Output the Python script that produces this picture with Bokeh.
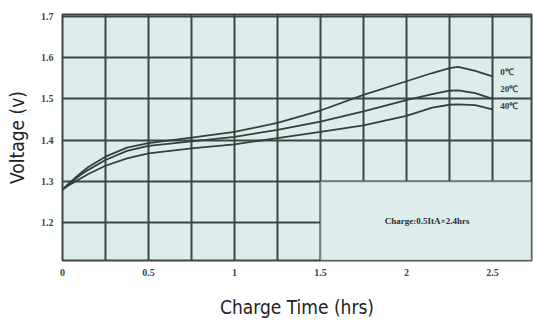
from bokeh.plotting import figure
from bokeh.models import FixedTicker, Range1d, BoxAnnotation, Label
from bokeh.embed import file_html
from bokeh.resources import INLINE

# ---- data ----
time_hrs = [0, 0.05, 0.1, 0.15, 0.25, 0.375, 0.5, 0.75, 1.0, 1.25, 1.5,
            1.75, 2.0, 2.15, 2.25, 2.3, 2.4, 2.5]
v_0c = [1.28, 1.300, 1.318, 1.335, 1.360, 1.382, 1.393, 1.406, 1.420, 1.442,
        1.472, 1.510, 1.543, 1.563, 1.575, 1.578, 1.568, 1.555]
v_20c = [1.28, 1.298, 1.314, 1.328, 1.352, 1.374, 1.386, 1.397, 1.408, 1.425,
         1.445, 1.470, 1.497, 1.512, 1.520, 1.521, 1.514, 1.500]
v_40c = [1.28, 1.294, 1.306, 1.318, 1.338, 1.356, 1.368, 1.380, 1.390, 1.405,
         1.420, 1.436, 1.459, 1.479, 1.486, 1.487, 1.485, 1.475]
series_names = ["0\u2103", "20\u2103", "40\u2103"]
series_vals = [v_0c, v_20c, v_40c]
label_v = [1.566, 1.525, 1.484]

x_ticks = [0, 0.5, 1, 1.5, 2, 2.5]
x_tick_labels = ["0", "0.5", "1", "1.5", "2", "2.5"]
x_grid = [0.25, 0.5, 0.75, 1.0, 1.25, 1.5, 1.75, 2.0, 2.25, 2.5]
y_ticks = [1.2, 1.3, 1.4, 1.5, 1.6, 1.7]
y_tick_labels = ["1.2", "1.3", "1.4", "1.5", "1.6", "1.7"]
note_text = "Charge:0.5ItA\u00d72.4hrs"

BG = "#dcedec"
GRID = "#3a4642"
LINE = "#34403c"
SERIF = "Liberation Serif"
NARROW = "DejaVu Sans Condensed, Roboto"
X_END = 2.727

p = figure(width=534, height=329, output_backend="svg", toolbar_location=None,
           x_range=Range1d(0, X_END), y_range=Range1d(1.108, 1.705),
           min_border_left=62, min_border_right=3, min_border_top=14,
           min_border_bottom=69)
p.background_fill_color = BG
p.border_fill_color = "white"
p.outline_line_color = GRID
p.outline_line_width = 2

# grid
p.xgrid.ticker = FixedTicker(ticks=x_grid)
p.ygrid.ticker = FixedTicker(ticks=y_ticks)
for g in (p.xgrid, p.ygrid):
    g.grid_line_color = GRID
    g.grid_line_width = 2
    g.grid_line_alpha = 1.0

# axes
p.xaxis.ticker = FixedTicker(ticks=x_ticks)
p.xaxis.major_label_overrides = {t: l for t, l in zip(x_ticks, x_tick_labels)}
p.yaxis.ticker = FixedTicker(ticks=y_ticks)
p.yaxis.major_label_overrides = {t: l for t, l in zip(y_ticks, y_tick_labels)}
for ax in (p.xaxis, p.yaxis):
    ax.axis_line_color = None
    ax.major_tick_line_color = None
    ax.minor_tick_line_color = None
    ax.major_tick_out = 0
    ax.major_tick_in = 0
    ax.major_label_text_font = SERIF
    ax.major_label_text_font_style = "bold"
    ax.major_label_text_font_size = "10px"
    ax.major_label_text_color = "#444444"
    ax.axis_label_text_font = NARROW
    ax.axis_label_text_font_style = "normal"
    ax.axis_label_text_font_size = "19px"
    ax.axis_label_text_color = "#222222"
p.xaxis.major_label_standoff = 8
p.yaxis.major_label_standoff = 9
p.xaxis.axis_label = "Charge Time (hrs)"
p.yaxis.axis_label = "Voltage (v)"
p.xaxis.axis_label_standoff = 17
p.yaxis.axis_label_standoff = 10

# lower-right note panel (covers the grid there)
p.add_layout(BoxAnnotation(left=1.5, right=X_END, bottom=1.108, top=1.3,
                           fill_color=BG, fill_alpha=1.0,
                           line_color=GRID, line_width=2, level="underlay"))

for vals in series_vals:
    p.line(time_hrs, vals, line_color=LINE, line_width=1.8)

for name, lv in zip(series_names, label_v):
    p.add_layout(Label(x=2.545, y=lv, text=name, text_font=SERIF,
                       text_font_style="bold", text_font_size="9px",
                       text_color="#3a3a3a", text_baseline="middle"))

p.add_layout(Label(x=2.12, y=1.205, text=note_text, text_font=SERIF,
                   text_font_style="bold", text_font_size="9px",
                   text_color="#2e2e2e", text_align="center",
                   text_baseline="middle"))

open("out.html", "w").write(file_html(p, INLINE))
